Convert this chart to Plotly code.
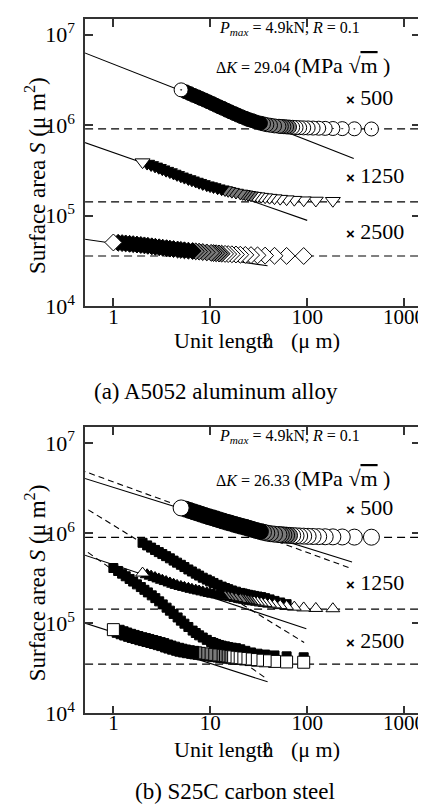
import plotly.graph_objects as go

# ---------------- data ----------------
# unit lengths (um) of the three magnifications (x500, x1250, x2500)
unit_len_500 = [460, 306.7, 230, 184, 153.3, 131.4, 115, 102.2, 92, 83.6, 76.7, 70.8, 65.7, 61.3, 57.5,
                54.1, 51.1, 46, 41.8, 38.3, 35.4, 32.9, 29.7, 27.1, 24.9, 23, 20.9, 19.2, 17.7, 16.1,
                14.8, 13.5, 12.4, 11.4, 10.5, 9.58, 8.76, 8.0, 7.36, 6.72, 6.13, 5.58, 5.0]
unit_len_1250 = [184, 122.7, 92, 73.6, 61.3, 52.6, 46, 40.9, 36.8, 33.5, 30.7, 28.3, 26.3, 24.5, 23,
                 21.6, 20.4, 18.4, 16.7, 15.3, 14.2, 13.1, 11.9, 10.8, 9.95, 9.2, 8.36, 7.67, 7.08, 6.46,
                 5.94, 5.41, 4.97, 4.54, 4.18, 3.83, 3.5, 3.2, 2.94, 2.69, 2.45, 2.23, 2.0]
unit_len_2500 = [92, 61.3, 46, 36.8, 30.7, 26.3, 23, 20.4, 18.4, 16.7, 15.3, 14.2, 13.1, 12.3, 11.5,
                 10.8, 10.2, 9.2, 8.36, 7.67, 7.08, 6.57, 5.94, 5.41, 4.97, 4.6, 4.18, 3.83, 3.54, 3.23,
                 2.97, 2.71, 2.49, 2.27, 2.09, 1.92, 1.75, 1.6, 1.47, 1.34, 1.23, 1.12, 1.0]

# (a) A5052 aluminum alloy - surface area S (um^2)
a_S_500 = [0.906e6, 0.91e6, 0.914e6, 0.917e6, 0.92e6, 0.924e6, 0.927e6, 0.93e6, 0.932e6, 0.936e6,
           0.94e6, 0.945e6, 0.95e6, 0.955e6, 0.96e6, 0.965e6, 0.97e6, 0.98e6, 0.995e6, 1.01e6,
           1.03e6, 1.05e6, 1.08e6, 1.12e6, 1.15e6, 1.19e6, 1.24e6, 1.29e6, 1.34e6, 1.40e6,
           1.46e6, 1.53e6, 1.59e6, 1.66e6, 1.73e6, 1.81e6, 1.89e6, 1.97e6, 2.05e6, 2.13e6,
           2.23e6, 2.33e6, 2.45e6]
a_S_1250 = [1.46e5, 1.47e5, 1.48e5, 1.5e5, 1.52e5, 1.54e5, 1.56e5, 1.58e5, 1.6e5, 1.62e5,
            1.64e5, 1.66e5, 1.68e5, 1.7e5, 1.72e5, 1.74e5, 1.76e5, 1.8e5, 1.84e5, 1.88e5,
            1.92e5, 1.96e5, 2.01e5, 2.07e5, 2.12e5, 2.17e5, 2.24e5, 2.31e5, 2.38e5, 2.46e5,
            2.54e5, 2.63e5, 2.72e5, 2.82e5, 2.92e5, 3.03e5, 3.14e5, 3.26e5, 3.38e5, 3.5e5,
            3.63e5, 3.76e5, 3.9e5]
a_S_2500 = [3.58e4, 3.59e4, 3.6e4, 3.62e4, 3.64e4, 3.66e4, 3.68e4, 3.7e4, 3.72e4, 3.74e4,
            3.76e4, 3.78e4, 3.8e4, 3.82e4, 3.84e4, 3.86e4, 3.88e4, 3.92e4, 3.96e4, 4.0e4,
            4.03e4, 4.06e4, 4.1e4, 4.14e4, 4.18e4, 4.22e4, 4.27e4, 4.32e4, 4.37e4, 4.42e4,
            4.47e4, 4.53e4, 4.58e4, 4.64e4, 4.69e4, 4.74e4, 4.79e4, 4.84e4, 4.88e4, 4.93e4,
            4.97e4, 5.01e4, 5.05e4]

# (b) S25C carbon steel
b_S_500 = [9.0e5, 9.02e5, 9.05e5, 9.08e5, 9.1e5, 9.13e5, 9.16e5, 9.2e5, 9.24e5, 9.28e5,
           9.32e5, 9.37e5, 9.42e5, 9.47e5, 9.52e5, 9.57e5, 9.62e5, 9.72e5, 9.85e5, 1.0e6,
           1.02e6, 1.04e6, 1.07e6, 1.1e6, 1.13e6, 1.16e6, 1.19e6, 1.22e6, 1.25e6, 1.29e6,
           1.32e6, 1.36e6, 1.40e6, 1.44e6, 1.48e6, 1.52e6, 1.57e6, 1.62e6, 1.67e6, 1.72e6,
           1.78e6, 1.84e6, 1.9e6]
b_S_1250 = [1.45e5, 1.46e5, 1.48e5, 1.51e5, 1.54e5, 1.57e5, 1.6e5, 1.63e5, 1.66e5, 1.68e5,
            1.71e5, 1.73e5, 1.75e5, 1.78e5, 1.8e5, 1.82e5, 1.84e5, 1.88e5, 1.92e5, 1.95e5,
            1.98e5, 2.02e5, 2.06e5, 2.1e5, 2.14e5, 2.18e5, 2.23e5, 2.28e5, 2.33e5, 2.38e5,
            2.44e5, 2.5e5, 2.56e5, 2.63e5, 2.71e5, 2.8e5, 2.9e5, 3.0e5, 3.1e5, 3.21e5,
            3.33e5, 3.45e5, 3.6e5]
b_S_2500 = [3.7e4, 3.73e4, 3.78e4, 3.84e4, 3.9e4, 3.96e4, 4.02e4, 4.08e4, 4.12e4, 4.16e4,
            4.21e4, 4.25e4, 4.3e4, 4.34e4, 4.38e4, 4.42e4, 4.46e4, 4.52e4, 4.58e4, 4.64e4,
            4.7e4, 4.76e4, 4.84e4, 4.93e4, 5.03e4, 5.15e4, 5.3e4, 5.45e4, 5.6e4, 5.8e4,
            5.95e4, 6.12e4, 6.28e4, 6.45e4, 6.6e4, 6.75e4, 6.95e4, 7.15e4, 7.35e4, 7.6e4,
            7.85e4, 8.15e4, 8.5e4]
# second (filled) measurement series in (b)
b_filled_len_1250 = unit_len_1250[4:]
b_filled_S_1250 = [1.63e5, 1.7e5, 1.77e5, 1.84e5, 1.9e5, 1.95e5, 1.98e5, 2.01e5, 2.04e5, 2.07e5,
                   2.1e5, 2.14e5, 2.17e5, 2.24e5, 2.31e5, 2.39e5, 2.46e5, 2.55e5, 2.67e5, 2.8e5,
                   2.92e5, 3.05e5, 3.2e5, 3.38e5, 3.55e5, 3.75e5, 3.95e5, 4.2e5, 4.45e5, 4.7e5,
                   4.95e5, 5.25e5, 5.55e5, 5.85e5, 6.15e5, 6.5e5, 6.9e5, 7.3e5, 7.8e5]
b_filled_S_2500 = [4.2e4, 4.3e4, 4.4e4, 4.5e4, 4.6e4, 4.75e4, 4.95e4, 5.15e4, 5.3e4, 5.37e4,
                   5.45e4, 5.55e4, 5.65e4, 5.75e4, 5.9e4, 6.05e4, 6.2e4, 6.55e4, 6.95e4, 7.35e4,
                   7.8e4, 8.3e4, 9.1e4, 9.9e4, 1.07e5, 1.16e5, 1.27e5, 1.38e5, 1.49e5, 1.62e5,
                   1.75e5, 1.9e5, 2.04e5, 2.2e5, 2.35e5, 2.52e5, 2.7e5, 2.9e5, 3.1e5, 3.32e5,
                   3.55e5, 3.8e5, 4.1e5]

# saturation levels (dashed horizontal lines)
plateau_a = [9.06e5, 1.42e5, 3.58e4]
plateau_b = [8.98e5, 1.435e5, 3.52e4]

# power-law fits S = C * l^m : coefficient, exponent, last unit length, dashed?
fit_a_coef = [4.71e6, 4.98e5, 4.94e4]
fit_a_exp = [-0.4205, -0.375, -0.156]
fit_a_end = [302, 100, 39]
fit_b_coef = [3.21e6, 3.69e6, 4.46e5, 1.22e6, 3.86e5, 7.94e4]
fit_b_exp = [-0.336, -0.391, -0.357, -0.66, -0.76, -0.345]
fit_b_end = [290, 290, 98, 93, 39, 39]
fit_b_dashed = [False, True, False, True, True, False]

x_ticks = [1, 10, 100, 1000]
x_ticktext = ["1", "10", "100", "1000"]
y_ticks = [1e4, 1e5, 1e6, 1e7]
y_ticktext = ["10<sup>4</sup>", "10<sup>5</sup>", "10<sup>6</sup>", "10<sup>7</sup>"]

# ---------------- figure ----------------
W, H = 426, 810
SERIF = "Liberation Serif"
AX = "#333333"


def px(x):
    return x / W


def py(y):
    return 1 - y / H


def fills(count):
    cols = []
    for i in range(count):
        if i == count - 1:
            cols.append("white")
        elif i >= 21:
            cols.append("black")
        elif i >= 12:
            cols.append("#7a7a7a")
        else:
            cols.append("white")
    return cols


fig = go.Figure()


def add_fit(coef, exp, end, xa, ya, dashed=False):
    xs = [0.45, end]
    ys = [coef * v ** exp for v in xs]
    fig.add_trace(go.Scatter(x=xs, y=ys, mode="lines", xaxis=xa, yaxis=ya,
                             line=dict(color="black", width=1.1,
                                       dash="6px,4px" if dashed else "solid"),
                             hoverinfo="skip"))


def add_open(xs, ys, symbol, size, xa, ya):
    fig.add_trace(go.Scatter(x=xs, y=ys, mode="markers", xaxis=xa, yaxis=ya,
                             marker=dict(symbol=symbol, size=size, color=fills(len(xs)),
                                         line=dict(color="black", width=1))))


def add_filled(xs, ys, size, xa, ya):
    fig.add_trace(go.Scatter(x=xs, y=ys, mode="markers", xaxis=xa, yaxis=ya,
                             marker=dict(symbol="square", size=size, color="black",
                                         line=dict(color="black", width=1))))


# panel (a)
for c, e, en in zip(fit_a_coef, fit_a_exp, fit_a_end):
    add_fit(c, e, en, "x", "y")
add_open(unit_len_500, a_S_500, "circle-dot", 14, "x", "y")
add_open(unit_len_1250, a_S_1250, "triangle-down", 13, "x", "y")
add_open(unit_len_2500, a_S_2500, "diamond", 13, "x", "y")

# panel (b)
for c, e, en, d in zip(fit_b_coef, fit_b_exp, fit_b_end, fit_b_dashed):
    add_fit(c, e, en, "x2", "y2", d)
add_filled(b_filled_len_1250, b_filled_S_1250, 9, "x2", "y2")
add_filled(unit_len_2500, b_filled_S_2500, 9, "x2", "y2")
add_open(unit_len_500, b_S_500, "circle", 16, "x2", "y2")
add_open(unit_len_1250, b_S_1250, "triangle-up", 12, "x2", "y2")
add_open(unit_len_2500, b_S_2500, "square", 12, "x2", "y2")

# dashed saturation lines
shapes = []
for v in plateau_a:
    shapes.append(dict(type="line", xref="x domain", yref="y", x0=0, x1=1, y0=v, y1=v,
                       layer="below", line=dict(color="black", width=1.2, dash="8px,5px")))
for v in plateau_b:
    shapes.append(dict(type="line", xref="x2 domain", yref="y2", x0=0, x1=1, y0=v, y1=v,
                       layer="below", line=dict(color="black", width=1.2, dash="8px,5px")))


def axis(**kw):
    d = dict(type="log", showline=True, linecolor=AX, linewidth=1.5, mirror="ticks",
             ticks="inside", ticklen=8, tickwidth=1.5, tickcolor=AX, showgrid=False,
             zeroline=False, tickfont=dict(family=SERIF, size=21, color="black"))
    d.update(kw)
    return d


xdom = [px(78), px(417)]
yr = [4, 7.174]
xr = [-0.292, 3.165]

fig.update_layout(
    width=W, height=H, margin=dict(l=0, r=0, t=0, b=0),
    paper_bgcolor="white", plot_bgcolor="white", showlegend=False,
    font=dict(family=SERIF, size=22, color="black"),
    xaxis=axis(domain=xdom, range=xr, anchor="y", tickvals=x_ticks,
               ticktext=x_ticktext, ticklabelstandoff=-9),
    yaxis=axis(domain=[py(303), py(11)], range=yr, anchor="x",
               tickvals=y_ticks, ticktext=y_ticktext, ticklabelstandoff=4,
               tickfont=dict(family=SERIF, size=22, color="black")),
    xaxis2=axis(domain=xdom, range=xr, anchor="y2", tickvals=x_ticks,
                ticktext=x_ticktext, ticklabelstandoff=-10),
    yaxis2=axis(domain=[py(717), py(426)], range=yr, anchor="x2",
                tickvals=y_ticks, ticktext=y_ticktext, ticklabelstandoff=4,
                tickfont=dict(family=SERIF, size=22, color="black")),
    shapes=shapes,
)

ann = []


def text(x, y, s, size=22, xanchor="left", angle=0, family=SERIF):
    ann.append(dict(x=px(x), y=py(y), xref="paper", yref="paper", text=s, showarrow=False,
                    xanchor=xanchor, yanchor="middle", textangle=angle,
                    font=dict(family=family, size=size, color="black")))


times = "<span style='font-family:Liberation Sans;font-size:15px'><b>×</b></span> "
sqrt_m = "√<span style='text-decoration:overline'>m</span>"
for top, dk, dky in [(0, "29.04", 58), (414, "26.33", 478)]:
    text(28, top + 170, "Surface area <i>S</i> (μ m<sup>2</sup>)", 23, "center", -90)
    text(211, top + 21, "<i>P<sub>max</sub></i> = 4.9kN, <i>R</i> = 0.1", 16)
    text(208, dky, "<span style='font-size:16px'>Δ<i>K</i> = " + dk + " </span>(MPa " + sqrt_m + " )", 22)
xlab_y = [338, 754]
for yy in xlab_y:
    text(271, yy, "Unit length", 22, "right")
    text(262, yy, "ℓ", 22, "center")
    text(284, yy, "(μ m)", 22, "left")
# magnification labels
for yy, s in [(91, "500"), (170, "1250"), (227, "2500"), (508, "500"), (584, "1250"), (643, "2500")]:
    text(340, yy, times + s, 22)
text(210, 390, "(a) A5052 aluminum alloy", 23, "center")
text(230, 796, "(b) S25C carbon steel", 23, "center")

fig.update_layout(annotations=ann)
fig.write_html("out.html")
